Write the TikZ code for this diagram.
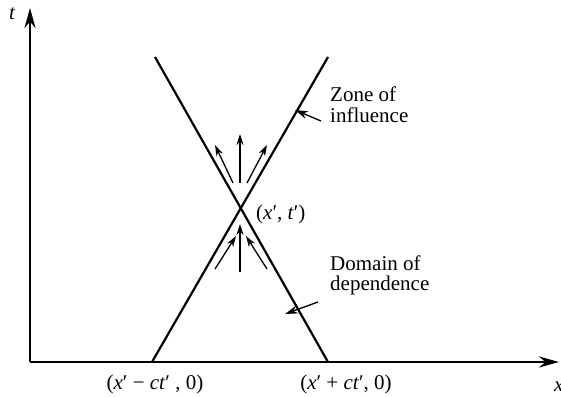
\documentclass[tikz,border=0pt]{standalone}
\usepackage{fontspec}
\setmainfont{Liberation Serif}
\usetikzlibrary{arrows.meta}
\newcommand{\iv}[1]{\textit{#1}}
\begin{document}
\begin{tikzpicture}[x=1pt,y=-1pt,
  axis/.style={line width=2.6pt,-{Stealth[length=20pt,width=11pt]}},
  cone/.style={line width=2.2pt},
  flow/.style={line width=1.3pt,-{Stealth[length=11pt,width=7pt]}},
  pointer/.style={line width=1.3pt,-{Stealth[length=13pt,width=8pt]}},
  lbl/.style={font=\fontsize{21}{21}\selectfont,inner sep=0pt},
]
\useasboundingbox (0,0) rectangle (561,396);
% axes
\coordinate (O) at (30,362);
\coordinate (tend) at (30,8);
\coordinate (xend) at (559,362);
\draw[axis] (O) -- (tend);
\draw[axis] (O) -- (xend);
\node[lbl,font=\fontsize{21}{21}\selectfont\itshape] (tl) at (12,14) {t};
\node[lbl,font=\fontsize{21}{21}\selectfont\itshape,anchor=base west] (xl) at (554,391) {x};
% cone lines
\coordinate (A1) at (152,362);
\coordinate (A2) at (328,57);
\coordinate (B1) at (155,57);
\coordinate (B2) at (328,362);
\draw[cone] (A1) -- (A2);
\draw[cone] (B1) -- (B2);
\coordinate (P) at (241,208);
% upper arrows
\coordinate (u1s) at (233,183); \coordinate (u1e) at (215,145);
\coordinate (u2s) at (240,183); \coordinate (u2e) at (240,134);
\coordinate (u3s) at (247,183); \coordinate (u3e) at (267,145);
\draw[flow] (u1s) -- (u1e);
\draw[flow] (u2s) -- (u2e);
\draw[flow] (u3s) -- (u3e);
% lower arrows
\coordinate (l1s) at (215,269); \coordinate (l1e) at (236,236);
\coordinate (l2s) at (240,272); \coordinate (l2e) at (240,224);
\coordinate (l3s) at (267,269); \coordinate (l3e) at (246,236);
\draw[flow] (l1s) -- (l1e);
\draw[flow] (l2s) -- (l2e);
\draw[flow] (l3s) -- (l3e);
% labels
\node[lbl,anchor=base west] (pt) at (256,219) {(\iv{x}′, \iv{t}′)};
\node[lbl,align=left,anchor=base west] (zone) at (330,122) {Zone of\\[0pt]influence};
\node[lbl,align=left,anchor=base west] (dom) at (330,290) {Domain of\\[-1pt]dependence};
\node[lbl,anchor=base] (xm) at (155,389) {(\iv{x}′ − \iv{ct}′ , 0)};
\node[lbl,anchor=base] (xp) at (346,389) {(\iv{x}′ + \iv{ct}′, 0)};
% pointers
\coordinate (zs) at (321,121); \coordinate (ze) at (295,110);
\coordinate (ds) at (318,302); \coordinate (de) at (285,314);
\draw[pointer] (zs) -- (ze);
\draw[pointer] (ds) -- (de);
\end{tikzpicture}
\end{document}
